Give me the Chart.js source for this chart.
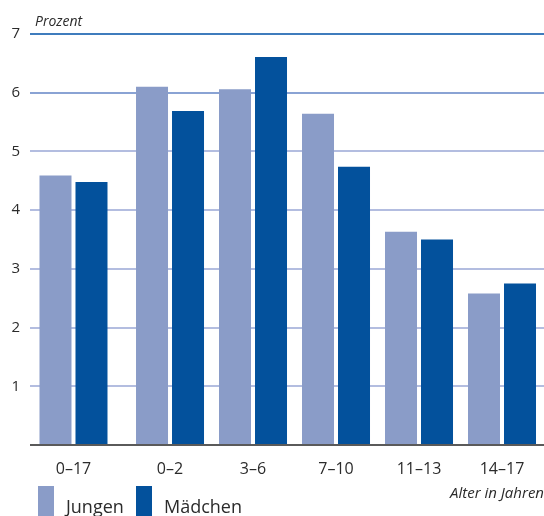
<!DOCTYPE html>
<html lang="de">
<head>
<meta charset="utf-8">
<title>Jungen und Mädchen nach Altersgruppen</title>
<script src="https://cdn.jsdelivr.net/npm/chart.js@4/dist/chart.umd.min.js"></script>
<style>
  html, body { margin: 0; padding: 0; background: #ffffff; }
  #wrap { width: 544px; height: 516px; overflow: hidden; }
  canvas { display: block; }
</style>
</head>
<body>
<div id="wrap"><canvas id="chart" width="544" height="516"></canvas></div>
<script>
// Altersgruppen und Anteile in Prozent
const categories = ['0–17', '0–2', '3–6', '7–10', '11–13', '14–17'];
const jungen   = [4.59, 6.10, 6.06, 5.64, 3.63, 2.58];
const maedchen = [4.48, 5.69, 6.61, 4.74, 3.50, 2.75];
const seriesNames = ['Jungen', 'Mädchen'];
const yTickValues = [1, 2, 3, 4, 5, 6, 7];

// Layout: the overall group (0–17) is set apart by an extra gap
const extraGapAfterTotal = 0.163;
const slots = categories.map((_, i) => (i === 0 ? 0 : i + extraGapAfterTotal));
const xMin = -0.524;
const xMax = 5.669;

const FONT = "'Open Sans', 'DejaVu Sans', sans-serif";
const COLOR_J = '#8a9cc8';
const COLOR_M = '#03519c';
const TEXT = '#2b2b2b';

// Draws the unit caption at the top and the legend at the bottom
const captions = {
  id: 'captions',
  afterDraw(chart) {
    const ctx = chart.ctx;
    const area = chart.chartArea;
    ctx.save();
    ctx.fillStyle = TEXT;
    ctx.textBaseline = 'alphabetic';
    ctx.textAlign = 'left';
    ctx.font = "italic 14px " + FONT;
    ctx.fillText('Prozent', area.left + 5, 26);

    const items = chart.data.datasets.map((ds, i) => ({ label: ds.label, color: ds.backgroundColor, x: [38, 136][i] }));
    items.forEach(it => {
      ctx.fillStyle = it.color;
      ctx.fillRect(it.x, 486, 16, 40);
      ctx.fillStyle = TEXT;
      ctx.font = "18px " + FONT;
      ctx.fillText(it.label, it.x + 28, 513);
    });
    ctx.restore();
  }
};

new Chart(document.getElementById('chart'), {
  type: 'bar',
  data: {
    datasets: [
      {
        label: seriesNames[0],
        data: jungen.map((v, i) => ({ x: slots[i], y: v })),
        backgroundColor: COLOR_J,
        borderWidth: 0,
        categoryPercentage: 0.8675,
        barPercentage: 0.889
      },
      {
        label: seriesNames[1],
        data: maedchen.map((v, i) => ({ x: slots[i], y: v })),
        backgroundColor: COLOR_M,
        borderWidth: 0,
        categoryPercentage: 0.8675,
        barPercentage: 0.889
      }
    ]
  },
  options: {
    responsive: false,
    animation: false,
    layout: { padding: { top: 34, bottom: 13, left: 0, right: 0 } },
    plugins: {
      legend: { display: false },
      tooltip: { enabled: false },
      title: { display: false }
    },
    scales: {
      x: {
        type: 'linear',
        min: xMin,
        max: xMax,
        offset: false,
        afterFit(scale) { scale.height = 58; },
        grid: { display: false, drawTicks: false },
        border: { display: false },
        afterBuildTicks(scale) {
          scale.ticks = slots.map(v => ({ value: v }));
        },
        ticks: {
          autoSkip: false,
          maxRotation: 0,
          padding: 15,
          color: TEXT,
          font: { family: FONT, size: 16 },
          callback: (value, index) => categories[index]
        },
        title: {
          display: true,
          text: 'Alter in Jahren',
          align: 'end',
          color: TEXT,
          font: { family: FONT, size: 15, style: 'italic' },
          padding: { top: 6, bottom: 0 }
        }
      },
      y: {
        min: 0,
        max: 7,
        afterFit(scale) { scale.width = 30; },
        afterBuildTicks(scale) {
          scale.ticks = [0].concat(yTickValues).map(v => ({ value: v }));
        },
        grid: {
          drawTicks: false,
          lineWidth: 2,
          color: (ctx) => {
            const v = ctx.tick ? ctx.tick.value : null;
            if (v === 0) return '#5a5a5a';
            if (v === 7) return '#3f7cbd';
            if (v === 6) return '#8aa3d4';
            return '#b3bde0';
          }
        },
        border: { display: false },
        ticks: {
          crossAlign: 'near',
          padding: 10,
          color: TEXT,
          font: { family: FONT, size: 15 },
          callback: (value) => (value === 0 ? '' : String(value))
        }
      }
    }
  },
  plugins: [captions]
});
</script>
</body>
</html>
